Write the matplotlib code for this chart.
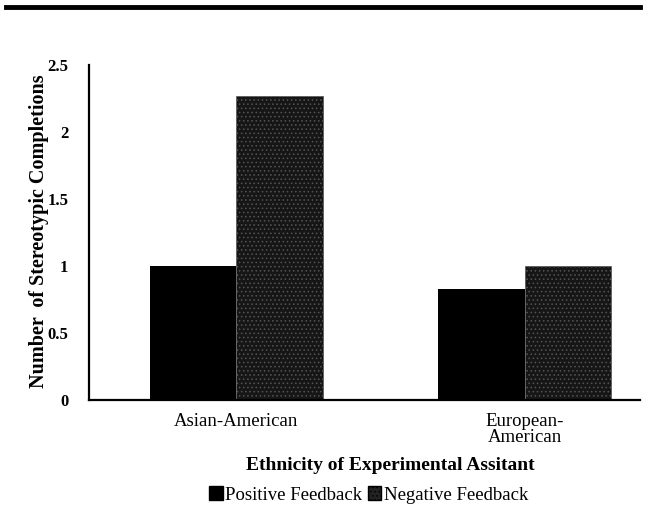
import matplotlib
matplotlib.use("Agg")
import matplotlib.pyplot as plt
import numpy as np
from matplotlib.lines import Line2D
from matplotlib.patches import Patch

categories = ["Asian-American", "European-\nAmerican"]
positive = [1.0, 0.83]
negative = [2.27, 1.0]
yticks = [0, 0.5, 1, 1.5, 2, 2.5]
ytick_labels = ["0", "0.5", "1", "1.5", "2", "2.5"]
series_names = ["Positive Feedback", "Negative Feedback"]

plt.rcParams['font.family'] = ['Liberation Serif', 'DejaVu Serif']
plt.rcParams['hatch.color'] = '#4a4a4a'
plt.rcParams['hatch.linewidth'] = 0.6

fig = plt.figure(figsize=(6.45, 5.07), dpi=100)
ax = fig.add_axes([89/645, 1-400/507, (640-89)/645, (400-65)/507])

x = np.arange(len(categories))
w = 0.30
ax.bar(x - w/2, positive, width=w, color='#000000', edgecolor='#000000', linewidth=0)
ax.bar(x + w/2, negative, width=w, color='#161616', edgecolor='#555555', linewidth=0.5, hatch='....')

ax.set_xlim(-0.51, 1.40)
ax.set_ylim(0, 2.5)
ax.set_yticks(yticks)
ax.set_yticklabels(ytick_labels, fontsize=12, fontweight='bold')
ax.set_xticks(x)
ax.set_xticklabels(categories, fontsize=13.5, linespacing=0.95)
ax.tick_params(axis='y', length=0, pad=15)
ax.tick_params(axis='x', length=0, pad=9)
for s in ['top', 'right']:
    ax.spines[s].set_visible(False)
ax.spines['left'].set_linewidth(1.6)
ax.spines['bottom'].set_linewidth(1.6)

fig.text(39/645, 1-231/507, "Number  of Stereotypic Completions", rotation=90,
         ha='center', va='center', fontsize=14.5, fontweight='bold')
fig.text(390/645, 1-466/507, "Ethnicity of Experimental Assitant",
         ha='center', va='center', fontsize=14, fontweight='bold')

handles = [Patch(facecolor='#000000', edgecolor='#000000'),
           Patch(facecolor='#222222', edgecolor='#000000', hatch='....')]
fig.legend(handles, series_names, loc='center', bbox_to_anchor=(369/645, 1-495/507),
           ncol=2, frameon=False, fontsize=13.5, handlelength=0.7, handleheight=0.7,
           handletextpad=0.15, columnspacing=0.3)

fig.add_artist(Line2D([6/645, 640/645], [1-7/507, 1-7/507], color='black', linewidth=3.5,
                      transform=fig.transFigure))

fig.savefig("out.png", dpi=100)
